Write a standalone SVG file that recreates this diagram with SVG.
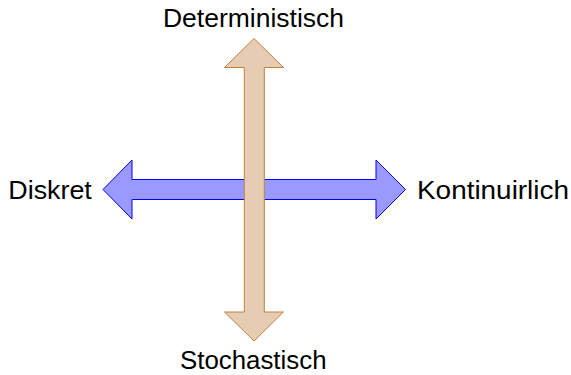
<svg xmlns="http://www.w3.org/2000/svg" width="571" height="375" viewBox="0 0 571 375">
<style>
.lbl{font-family:"Liberation Sans","DejaVu Sans",sans-serif;font-size:26px;fill:#000}
.h{fill:#9999ff;stroke:#0000ff;stroke-width:1}
.v{fill:#e6ccb3;stroke:#bf8040;stroke-width:1}
</style>
<rect width="571" height="375" fill="#fff"/>
<g id="connectors">
<polygon id="horizontal" class="h" points="103,189.5 132,160 132,179.5 376,179.5 376,160 405.5,189.5 376,219 376,199.5 132,199.5 132,219"/>
<polygon id="vertical" class="v" points="254,38.5 283.5,67.5 264.3,67.5 264.3,312 283.5,312 254,341 224.5,312 244.3,312 244.3,67.5 224.5,67.5"/>
</g>
<g id="deterministisch"><text class="lbl" x="163" y="26.7" textLength="181" lengthAdjust="spacingAndGlyphs">Deterministisch</text></g>
<g id="stochastisch"><text class="lbl" x="180" y="369.3" textLength="146.5" lengthAdjust="spacingAndGlyphs">Stochastisch</text></g>
<g id="diskret"><text class="lbl" x="8.3" y="198.5" textLength="83.5" lengthAdjust="spacingAndGlyphs">Diskret</text></g>
<g id="kontinuirlich"><text class="lbl" x="417" y="199.3" textLength="152" lengthAdjust="spacingAndGlyphs">Kontinuirlich</text></g>
</svg>
